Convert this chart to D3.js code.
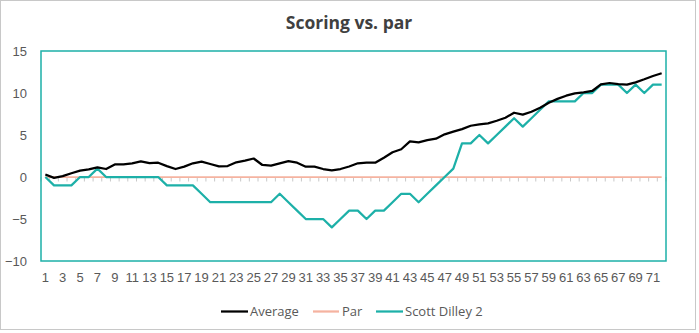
<!DOCTYPE html>
<html><head><meta charset="utf-8">
<script src="https://cdn.jsdelivr.net/npm/d3@7"></script>
<style>body{margin:0;background:#fff;} svg{display:block;font-family:"Open Sans","Noto Sans",sans-serif;}</style>
</head><body>
<svg id="c" width="699" height="333"></svg>
<script>
const categories = d3.range(1, 73).map(String);
const average = [0.3,-0.1,0.1,0.45,0.75,0.9,1.15,0.95,1.5,1.5,1.63,1.87,1.65,1.7,1.3,0.95,1.23,1.63,1.83,1.55,1.27,1.3,1.75,1.95,2.2,1.43,1.35,1.63,1.9,1.7,1.23,1.23,0.95,0.8,0.95,1.25,1.63,1.7,1.7,2.3,2.94,3.3,4.25,4.13,4.4,4.56,5.08,5.4,5.7,6.1,6.27,6.39,6.7,7.06,7.65,7.42,7.77,8.25,8.85,9.3,9.68,9.96,10.08,10.24,11.03,11.19,11.07,10.99,11.27,11.63,12.02,12.35];
const par = categories.map(() => 0);
const scott = [0,-1,-1,-1,0,0,1,0,0,0,0,0,0,0,-1,-1,-1,-1,-2,-3,-3,-3,-3,-3,-3,-3,-3,-2,-3,-4,-5,-5,-5,-6,-5,-4,-4,-5,-4,-4,-3,-2,-2,-3,-2,-1,0,1,4,4,5,4,5,6,7,6,7,8,9,9,9,9,10,10,11,11,11,10,11,10,11,11];
const yTicks = [-10,-5,0,5,10,15];
const xTickLabels = categories.filter((d,i) => i % 2 === 0);
const seriesNames = ["Average","Par","Scott Dilley 2"];
const colors = {"Average":"#000000","Par":"#f5b3a0","Scott Dilley 2":"#1db0a8"};

const svg = d3.select("#c");
const L = 41, R = 666, T = 51, B = 261;
const x = d3.scaleBand().domain(categories).range([L, R]).padding(0);
const cx = d => x(d) + x.bandwidth()/2;
const y = d3.scaleLinear().domain([-10, 15]).range([B, T]);

// outer border
svg.append("rect").attr("x",0.5).attr("y",0.5).attr("width",695).attr("height",329)
  .attr("fill","#fff").attr("stroke","#c8c8c8").attr("stroke-width",1);

// title
svg.append("text").attr("x",349).attr("y",29).attr("text-anchor","middle")
  .attr("font-size",17.5).attr("font-weight","bold").attr("fill","#404040").text("Scoring vs. par");

// y axis labels
const ya = svg.append("g").attr("transform",`translate(${L},0)`)
  .call(d3.axisLeft(y).tickValues(yTicks).tickSize(0).tickPadding(14));
ya.select(".domain").remove();
ya.selectAll("text").attr("font-size",13).attr("fill","#595959").attr("font-family","inherit");

// x axis labels
const xa = svg.append("g").attr("transform",`translate(0,${B})`)
  .call(d3.axisBottom(x).tickValues(xTickLabels).tickSize(0).tickPadding(12));
xa.select(".domain").remove();
xa.selectAll("text").attr("font-size",13).attr("fill","#595959").attr("font-family","inherit");

// category tick marks at zero line
const bounds = categories.map(d => x(d)).concat([x.range()[1]]);
svg.append("g").selectAll("line").data(bounds).join("line")
  .attr("x1",d=>d).attr("x2",d=>d).attr("y1",y(0)).attr("y2",y(0)+4.5)
  .attr("stroke","#c8c8c8").attr("stroke-width",1);

// plot border
svg.append("rect").attr("x",L).attr("y",T).attr("width",R-L).attr("height",B-T)
  .attr("fill","none").attr("stroke",colors["Scott Dilley 2"]).attr("stroke-width",1.5);

const line = d3.line().x((d,i)=>cx(categories[i])).y(d=>y(d));
const data = {"Average":average,"Par":par,"Scott Dilley 2":scott};
["Par","Scott Dilley 2","Average"].forEach(n => {
  svg.append("path").datum(data[n]).attr("d",line).attr("fill","none")
    .attr("stroke",colors[n]).attr("stroke-width", n==="Par"?1.75:2.25)
    .attr("stroke-linejoin","round");
});

// legend
const legendPos = [{n:"Average",x1:221,x2:248,tx:250},{n:"Par",x1:313,x2:339,tx:342},{n:"Scott Dilley 2",x1:376,x2:403,tx:405}];
const lg = svg.append("g");
legendPos.forEach(p => {
  lg.append("line").attr("x1",p.x1).attr("x2",p.x2).attr("y1",311.5).attr("y2",311.5)
    .attr("stroke",colors[p.n]).attr("stroke-width",2.25);
  lg.append("text").attr("x",p.tx).attr("y",316).attr("font-size",13).attr("fill","#595959").text(p.n);
});
</script>
</body></html>
